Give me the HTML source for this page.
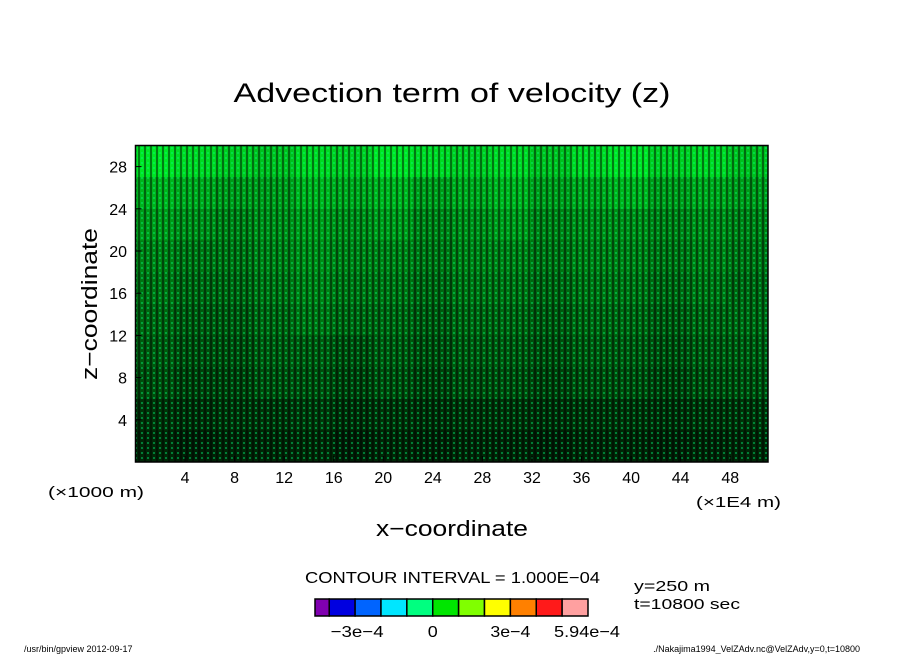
<!DOCTYPE html>
<html><head><meta charset="utf-8"><style>
body{margin:0;background:#fff;}
svg{display:block;font-family:"Liberation Sans",sans-serif;}
</style></head><body>
<svg id="chart" width="904" height="654" viewBox="0 0 904 654">
<defs>
<pattern id="tex" width="6" height="5" patternUnits="userSpaceOnUse">
<rect x="0" y="0" width="2" height="5" fill="#000" opacity="0.45"/>
<rect x="3" y="2" width="2" height="2" fill="#00ff7f" opacity="0.4"/>
</pattern>
</defs>
<text x="452" y="102" font-size="27" text-anchor="middle" textLength="437" lengthAdjust="spacingAndGlyphs">Advection term of velocity (z)</text>
<g id="heat"></g>
<rect x="135.5" y="145.5" width="632.5" height="316.5" fill="url(#tex)"/>
<rect x="135.5" y="145.5" width="632.5" height="316.5" fill="none" stroke="#000" stroke-width="1.5"/>
<g id="yaxis"></g>
<g id="xaxis"></g>
<text x="97" y="304" font-size="22" text-anchor="middle" textLength="152" lengthAdjust="spacingAndGlyphs" transform="rotate(-90 97 304)">z−coordinate</text>
<text x="452" y="536" font-size="22" text-anchor="middle" textLength="152" lengthAdjust="spacingAndGlyphs">x−coordinate</text>
<text x="48" y="497" font-size="15" textLength="96" lengthAdjust="spacingAndGlyphs">(×1000 m)</text>
<text x="696" y="507" font-size="15" textLength="85" lengthAdjust="spacingAndGlyphs">(×1E4 m)</text>
<text x="305" y="583" font-size="16" textLength="295" lengthAdjust="spacingAndGlyphs">CONTOUR INTERVAL = 1.000E−04</text>
<text x="634" y="591" font-size="15" textLength="76" lengthAdjust="spacingAndGlyphs">y=250 m</text>
<text x="634" y="609" font-size="15" textLength="106" lengthAdjust="spacingAndGlyphs">t=10800 sec</text>
<g id="cbar"></g>
<text x="24" y="652" font-size="9">/usr/bin/gpview  2012-09-17</text>
<text x="860" y="652" font-size="9" text-anchor="end">./Nakajima1994_VelZAdv.nc@VelZAdv,y=0,t=10800</text>
</svg>
<script>
// green fraction per cell, rows top (z=30) to bottom (z=0), 16 columns across x
const heatRows = [
[0.9,0.85,0.8,0.75,0.85,0.8,0.9,0.85,0.8,0.85,0.75,0.85,0.9,0.8,0.85,0.75],
[0.7,0.65,0.6,0.6,0.7,0.65,0.7,0.6,0.65,0.7,0.6,0.65,0.7,0.6,0.65,0.6],
[0.6,0.55,0.5,0.55,0.6,0.55,0.6,0.5,0.55,0.6,0.5,0.55,0.55,0.5,0.55,0.5],
[0.5,0.45,0.45,0.5,0.55,0.5,0.5,0.45,0.5,0.5,0.45,0.5,0.5,0.45,0.5,0.45],
[0.45,0.4,0.4,0.45,0.5,0.45,0.45,0.4,0.45,0.45,0.4,0.45,0.45,0.4,0.45,0.4],
[0.4,0.35,0.35,0.4,0.45,0.4,0.4,0.35,0.4,0.4,0.35,0.4,0.4,0.35,0.4,0.4],
[0.35,0.3,0.3,0.35,0.35,0.3,0.35,0.3,0.35,0.35,0.3,0.35,0.35,0.3,0.35,0.35],
[0.3,0.25,0.25,0.3,0.3,0.25,0.3,0.25,0.3,0.3,0.25,0.3,0.3,0.25,0.3,0.3],
[0.2,0.18,0.2,0.2,0.22,0.18,0.2,0.18,0.2,0.2,0.18,0.2,0.2,0.18,0.2,0.2],
[0.15,0.12,0.14,0.15,0.16,0.12,0.15,0.13,0.15,0.14,0.12,0.15,0.15,0.13,0.14,0.15]
];
const yTicks = [4,8,12,16,20,24,28];
const xTicks = [4,8,12,16,20,24,28,32,36,40,44,48];
const cbarColors = ["#8000b0","#0000e0","#0064ff","#00e6ff","#00ff80","#00e600","#80ff00","#ffff00","#ff8000","#ff1a1a","#ffa0a0"];
const cbarLabels = ["−3e−4","0","3e−4","5.94e−4"];
const cbarLabelIdx = [2,5,8,11];

const NS="http://www.w3.org/2000/svg";
const X0=135.5,X1=768,Y0=462,Y1=145.5,XMAX=51.05,YMAX=30;
const xs=v=>X0+(X1-X0)*v/XMAX, ys=v=>Y0-(Y0-Y1)*v/YMAX;
function mk(t,a,p){const e=document.createElementNS(NS,t);for(const k in a)e.setAttribute(k,a[k]);p.appendChild(e);return e;}
const heat=document.getElementById('heat');
const nr=heatRows.length;
heatRows.forEach((row,i)=>{const nc=row.length;row.forEach((v,j)=>{
 const x=X0+(X1-X0)*j/nc, w=(X1-X0)/nc, y=Y1+(Y0-Y1)*i/nr, h=(Y0-Y1)/nr;
 const g=Math.round(255*v), b=Math.round(40*v);
 const r=mk('rect',{x:x,y:y,width:w+0.5,height:h+0.5,fill:`rgb(0,${g},${b})`},heat);
 
 
});});
const ya=document.getElementById('yaxis');
yTicks.forEach(t=>{const y=ys(t);
 mk('line',{x1:X0,x2:X0+6,y1:y,y2:y,stroke:'#000'},ya);
 const tx=mk('text',{x:127,y:y+6,'font-size':16,'text-anchor':'end'},ya);tx.textContent=t;
 
 
});
const xa=document.getElementById('xaxis');
xTicks.forEach(t=>{const x=xs(t);
 mk('line',{x1:x,x2:x,y1:Y0,y2:Y0-6,stroke:'#000'},xa);
 const tx=mk('text',{x:x,y:483,'font-size':16,'text-anchor':'middle'},xa);tx.textContent=t;
 
 
});
const cb=document.getElementById('cbar');
const CX0=315,CX1=588,CY=599,CH=17;
const bw=[0.55,1,1,1,1,1,1,1,1,1,1];const tot=bw.reduce((a,b)=>a+b,0);
let cx=CX0;const edges=[CX0];
cbarColors.forEach((c,i)=>{const w=(CX1-CX0)*bw[i]/tot;
 const r=mk('rect',{x:cx,y:CY,width:w,height:CH,fill:c,stroke:'#000','stroke-width':1.5},cb);
 
 
 cx+=w;edges.push(cx);});
const lw=[53,10,40,66];
const lshift=[2,0,0,-1];
cbarLabels.forEach((l,i)=>{const tx=mk('text',{x:edges[cbarLabelIdx[i]]+lshift[i],y:637,'font-size':16,'text-anchor':'middle',textLength:lw[i],lengthAdjust:'spacingAndGlyphs'},cb);tx.textContent=l;
 
 
});
</script>
</body></html>
